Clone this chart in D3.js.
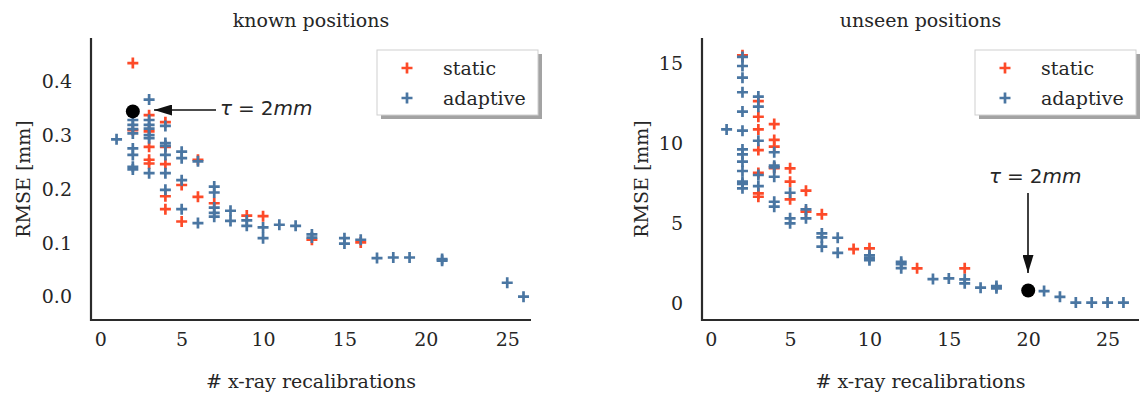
<!DOCTYPE html>
<html>
<head>
<meta charset="utf-8">
<script src="https://cdn.jsdelivr.net/npm/d3@7"></script>
<style>
  body { margin: 0; background: #fff; }
  svg { display: block; }
  text { font-family: "DejaVu Serif", serif; fill: #262626; }
  .math { font-family: "DejaVu Sans", sans-serif; }
</style>
</head>
<body>
<svg id="chart" width="1140" height="396"></svg>
<script>
// x = # x-ray recalibrations, y = RMSE [mm]
const knownStatic = [
  [2, 0.435], [2, 0.31], [3, 0.338], [3, 0.308], [3, 0.279], [3, 0.255], [3, 0.248],
  [4, 0.325], [4, 0.279], [4, 0.247], [4, 0.187], [4, 0.163],
  [5, 0.208], [5, 0.14], [6, 0.255], [6, 0.186], [7, 0.174],
  [9, 0.151], [10, 0.15], [13, 0.106], [16, 0.101]
];
const knownAdaptive = [
  [1, 0.293],
  [2, 0.329], [2, 0.32], [2, 0.312], [2, 0.304], [2, 0.276], [2, 0.264], [2, 0.242], [2, 0.237],
  [3, 0.367], [3, 0.329], [3, 0.32], [3, 0.313], [3, 0.301], [3, 0.295], [3, 0.23],
  [4, 0.318], [4, 0.286], [4, 0.281], [4, 0.264], [4, 0.23], [4, 0.199],
  [5, 0.27], [5, 0.258], [5, 0.217], [5, 0.163],
  [6, 0.252], [6, 0.137],
  [7, 0.205], [7, 0.194], [7, 0.166], [7, 0.156], [7, 0.149],
  [8, 0.16], [8, 0.141], [9, 0.142], [9, 0.132], [10, 0.129], [10, 0.109],
  [11, 0.134], [12, 0.132], [13, 0.116], [13, 0.11], [15, 0.109], [15, 0.099], [16, 0.106],
  [17, 0.072], [18, 0.073], [19, 0.073], [21, 0.07], [21, 0.067], [25, 0.026], [26, 0.0]
];
const unseenStatic = [
  [2, 15.5], [3, 12.64], [3, 11.66], [3, 10.87], [3, 9.58], [3, 8.15], [3, 6.87], [3, 6.66],
  [4, 11.2], [4, 10.21], [4, 9.79], [4, 8.45], [5, 8.44], [5, 7.6], [5, 6.5],
  [6, 7.04], [6, 5.73], [7, 5.56], [9, 3.39], [10, 3.44], [13, 2.19], [16, 2.19]
];
const unseenAdaptive = [
  [1, 10.87],
  [2, 15.4], [2, 14.83], [2, 14.1], [2, 13.19], [2, 11.98], [2, 10.79], [2, 9.62], [2, 9.31],
  [2, 8.85], [2, 8.27], [2, 7.6], [2, 7.46], [2, 7.19],
  [3, 12.92], [3, 12.29], [3, 10.16], [3, 8.02], [3, 7.33],
  [4, 9.44], [4, 8.6], [4, 8.5], [4, 7.91], [4, 6.35], [4, 6.04],
  [5, 6.91], [5, 5.31], [5, 5.0], [6, 5.87], [6, 5.31],
  [7, 4.37], [7, 4.12], [7, 3.54], [8, 4.1], [8, 3.16],
  [10, 3.0], [10, 2.85], [10, 2.7], [12, 2.6], [12, 2.45], [12, 2.2],
  [14, 1.52], [15, 1.56], [16, 1.5], [16, 1.25], [17, 0.98], [18, 1.08], [18, 0.94],
  [21, 0.77], [22, 0.41], [23, 0.05], [24, 0.05], [25, 0.05], [26, 0.05]
];
const knownMarked = [2, 0.345];
const unseenMarked = [20, 0.8];

const xTicks = [0, 5, 10, 15, 20, 25];
const knownYTicks = [0.0, 0.1, 0.2, 0.3, 0.4];
const unseenYTicks = [0, 5, 10, 15];
const seriesNames = ["static", "adaptive"];

const COLORS = { static: "#fd4a28", adaptive: "#4a76a2" };
const FONT = 19;

const svg = d3.select("#chart");

// arrowhead
svg.append("defs").append("marker")
  .attr("id", "head")
  .attr("viewBox", "0 0 18 11")
  .attr("refX", 18).attr("refY", 5.5)
  .attr("markerWidth", 18).attr("markerHeight", 11)
  .attr("markerUnits", "userSpaceOnUse")
  .attr("orient", "auto")
  .append("path")
  .attr("d", "M0,0L18,5.5L0,11Z")
  .attr("fill", "#111");

const plus = (g, pts, xs, ys, color) => {
  g.selectAll(null)
    .data(pts)
    .join("path")
    .attr("d", "M-5.5,0H5.5M0,-5.5V5.5")
    .attr("transform", (d) => `translate(${xs(d[0])},${ys(d[1])})`)
    .attr("stroke", color)
    .attr("stroke-width", 2.7)
    .attr("fill", "none");
};

// tau = 2mm, mathtext-like
const mathLabel = (sel) => {
  sel.attr("class", "math").style("font-size", "20px");
  sel.append("tspan").attr("font-style", "italic").text("τ");
  sel.append("tspan").attr("dx", 6).text("=");
  sel.append("tspan").attr("dx", 6).text("2");
  sel.append("tspan").attr("font-style", "italic").text("mm");
};

const drawPanel = (cfg) => {
  const { left, right, top, bottom } = cfg.box;
  const x = d3.scaleLinear().domain(cfg.xDomain).range([left, right]);
  const y = d3.scaleLinear().domain(cfg.yDomain).range([bottom, top]);
  const g = svg.append("g");

  // Axes
  const xa = g.append("g")
    .attr("transform", `translate(0,${bottom})`)
    .call(d3.axisBottom(x).tickValues(xTicks).tickSize(0).tickPadding(13).tickFormat(d3.format("d")));
  const ya = g.append("g")
    .attr("transform", `translate(${left},0)`)
    .call(d3.axisLeft(y).tickValues(cfg.yTicks).tickSize(0).tickPadding(19).tickFormat(cfg.yFormat));
  [xa, ya].forEach((a) => {
    a.select(".domain").remove();
    a.selectAll("text").style("font-family", '"DejaVu Serif", serif').style("font-size", FONT + "px").attr("fill", "#262626");
  });
  g.append("path")
    .attr("d", `M${left},${top}V${bottom}H${right}`)
    .attr("fill", "none")
    .attr("stroke", "#2b2b2b")
    .attr("stroke-width", 2.2);

  // Titles and labels
  g.append("text")
    .attr("x", (left + right) / 2).attr("y", 20)
    .attr("text-anchor", "middle").attr("dominant-baseline", "central")
    .style("font-size", FONT + "px")
    .text(cfg.title);
  g.append("text")
    .attr("x", (left + right) / 2).attr("y", 381)
    .attr("text-anchor", "middle").attr("dominant-baseline", "central")
    .style("font-size", FONT + "px")
    .text("# x-ray recalibrations");
  g.append("text")
    .attr("transform", `translate(${cfg.yLabelX},${(top + bottom) / 2}) rotate(-90)`)
    .attr("text-anchor", "middle").attr("dominant-baseline", "central")
    .style("font-size", FONT + "px")
    .text("RMSE [mm]");

  // Data layers
  plus(g, cfg.stat, x, y, COLORS.static);
  plus(g, cfg.adap, x, y, COLORS.adaptive);

  // Annotation
  const mx = x(cfg.marked[0]), my = y(cfg.marked[1]);
  g.append("circle").attr("cx", mx).attr("cy", my).attr("r", 7).attr("fill", "#000");
  const a = cfg.arrow;
  g.append("line")
    .attr("x1", a.x1).attr("y1", a.y1)
    .attr("x2", a.x2).attr("y2", a.y2)
    .attr("stroke", "#111").attr("stroke-width", 1.6)
    .attr("marker-end", "url(#head)");
  g.append("text")
    .attr("x", a.tx).attr("y", a.ty)
    .attr("dominant-baseline", "central")
    .call(mathLabel);

  // Legend
  const lg = g.append("g").attr("transform", `translate(${cfg.legendX},50)`);
  lg.append("rect").attr("x", 4).attr("y", 4).attr("width", 161).attr("height", 65).attr("fill", "#8c8c8c").attr("opacity", 0.8);
  lg.append("rect").attr("width", 161).attr("height", 65).attr("fill", "#fff").attr("stroke", "#cfcfcf").attr("stroke-width", 1);
  seriesNames.forEach((name, i) => {
    const row = lg.append("g").attr("transform", `translate(30,${18 + i * 30})`);
    row.append("path")
      .attr("d", "M-5.5,0H5.5M0,-5.5V5.5")
      .attr("stroke", COLORS[name]).attr("stroke-width", 2.7).attr("fill", "none");
    row.append("text")
      .attr("x", 36).attr("y", 0)
      .attr("dominant-baseline", "central")
      .style("font-size", FONT + "px")
      .text(name);
  });
};

drawPanel({
  title: "known positions",
  box: { left: 91, right: 531, top: 38, bottom: 320 },
  xDomain: [-0.57, 26.46],
  yDomain: [-0.0434, 0.4817],
  yTicks: knownYTicks,
  yFormat: d3.format(".1f"),
  yLabelX: 23,
  stat: knownStatic,
  adap: knownAdaptive,
  marked: knownMarked,
  arrow: { x1: 216, y1: 110, x2: 154, y2: 110, tx: 220, ty: 108 },
  legendX: 377
});

drawPanel({
  title: "unseen positions",
  box: { left: 702, right: 1139, top: 38, bottom: 320 },
  xDomain: [-0.55, 26.98],
  yDomain: [-1.04, 16.58],
  yTicks: unseenYTicks,
  yFormat: d3.format("d"),
  yLabelX: 641,
  stat: unseenStatic,
  adap: unseenAdaptive,
  marked: unseenMarked,
  arrow: { x1: 1028, y1: 193, x2: 1028, y2: 273, tx: 989, ty: 176 },
  legendX: 975
});
</script>
</body>
</html>
